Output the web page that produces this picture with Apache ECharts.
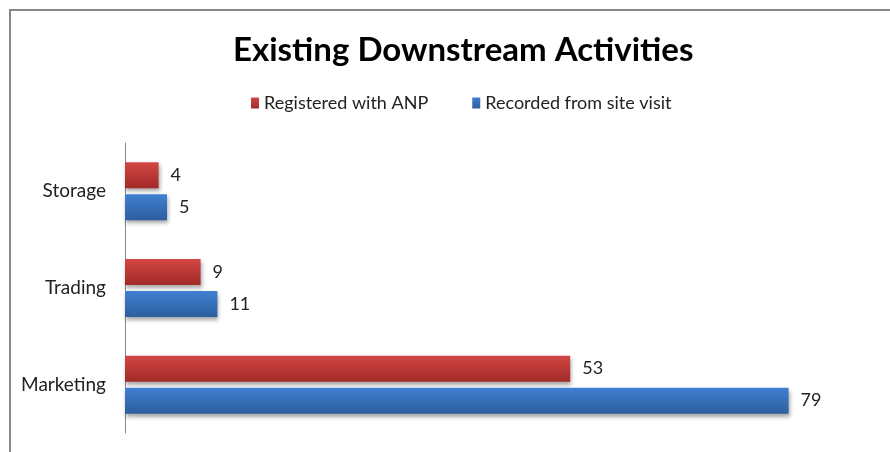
<!DOCTYPE html>
<html><head><meta charset="utf-8">
<script src="https://cdn.jsdelivr.net/npm/echarts@6/dist/echarts.min.js"></script>
<style>html,body{margin:0;padding:0;background:#fff}#c{width:890px;height:452px}</style>
</head><body><div id="c"></div>
<script>
const categories = ['Storage', 'Trading', 'Marketing'];
const registeredWithANP = [4, 9, 53];
const recordedFromSiteVisit = [5, 11, 79];
const seriesNames = ['Registered with ANP', 'Recorded from site visit'];

const FONT = 'Lato';
const chart = echarts.init(document.getElementById('c'));
function grad(top, bottom) {
  return new echarts.graphic.LinearGradient(0, 0, 0, 1, [
    {offset: 0, color: top}, {offset: 1, color: bottom}
  ]);
}
chart.setOption({
  animation: false,
  backgroundColor: '#fff',
  graphic: [{
    type: 'rect', shape: {x: 10, y: 10, width: 1000, height: 600},
    style: {fill: 'none', stroke: '#878787', lineWidth: 2}, silent: true, z: -1
  }],
  title: {
    text: 'Existing Downstream Activities',
    left: 228, top: 29,
    textStyle: {fontFamily: FONT, fontWeight: 'bold', fontSize: 33, color: '#000'}
  },
  legend: {
    data: seriesNames, top: 89, left: 246, itemWidth: 8, itemHeight: 11, itemGap: 44,
    icon: 'rect',
    textStyle: {fontFamily: FONT, fontSize: 18, color: '#222'}
  },
  grid: {left: 125, right: 9, top: 143, bottom: 19, containLabel: false},
  xAxis: {type: 'value', min: 0, max: 90, show: false},
  yAxis: {
    type: 'category', data: categories, inverse: true,
    axisLine: {show: true, lineStyle: {color: '#888', width: 1}},
    axisTick: {show: false},
    axisLabel: {fontFamily: FONT, fontSize: 19, color: '#222', margin: 19}
  },
  series: [
    {
      name: seriesNames[0], type: 'bar', data: registeredWithANP,
      barWidth: 26, barGap: '23%',
      itemStyle: {color: grad('#d24644', '#a12a27'), shadowColor: 'rgba(0,0,0,0.35)', shadowBlur: 4, shadowOffsetY: 3, shadowOffsetX: 1},
      label: {show: true, position: 'right', distance: 12, fontFamily: FONT, fontSize: 18, color: '#222'}
    },
    {
      name: seriesNames[1], type: 'bar', data: recordedFromSiteVisit,
      barWidth: 26,
      itemStyle: {color: grad('#3f80d2', '#2d5e9e'), shadowColor: 'rgba(0,0,0,0.35)', shadowBlur: 4, shadowOffsetY: 3, shadowOffsetX: 1},
      label: {show: true, position: 'right', distance: 12, fontFamily: FONT, fontSize: 18, color: '#222'}
    }
  ]
});
</script></body></html>
